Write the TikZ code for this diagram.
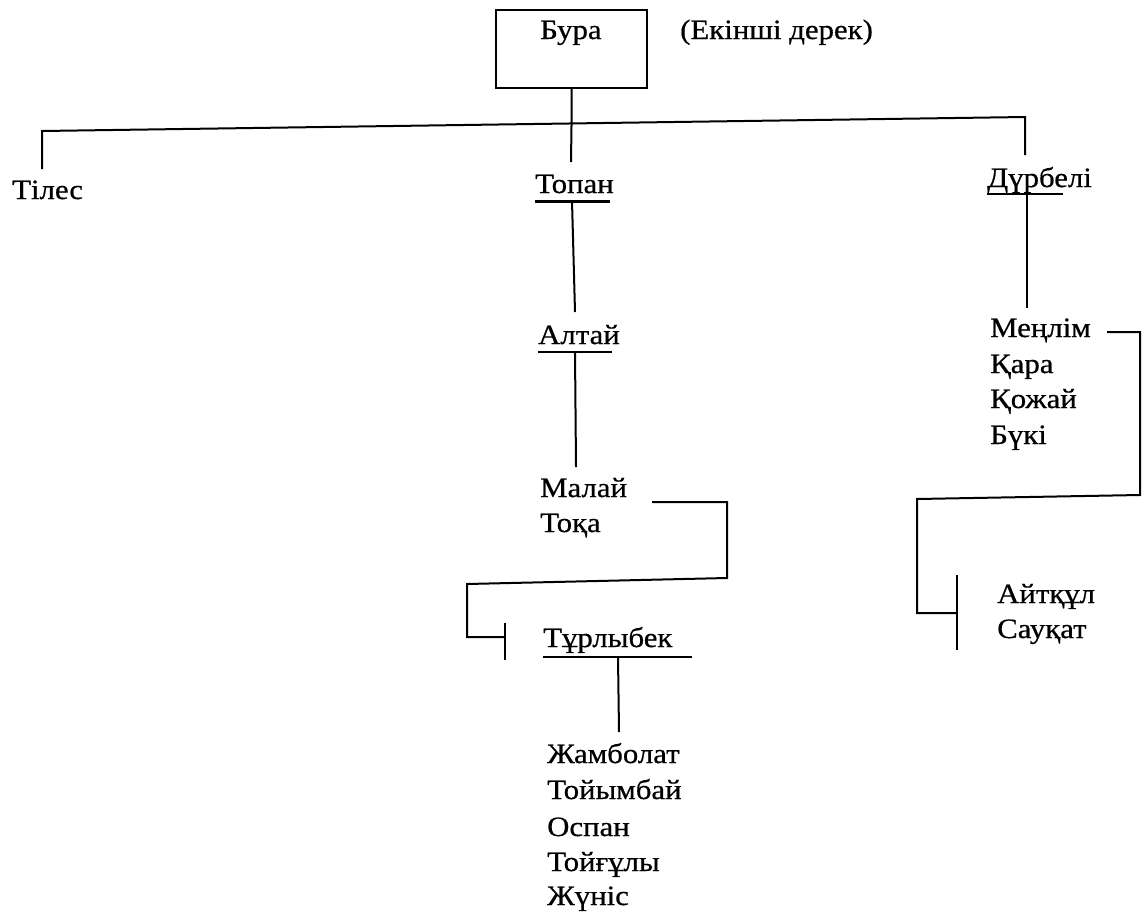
\documentclass[tikz,border=0pt]{standalone}
\usepackage{fontspec}
\setmainfont{Liberation Serif}[FakeStretch=1.1, FakeBold=0.6]
\usepackage{xcolor}
\usepackage{tikz}
\usetikzlibrary{calc}
\definecolor{bg}{HTML}{FFFFFF}
\definecolor{ink}{HTML}{000000}
\tikzset{
  link/.style={draw=ink, line width=2pt, line cap=butt, line join=miter},
  uline/.style={draw=ink, line width=1.8pt},
  ulinebold/.style={draw=ink, line width=3pt},
  person/.style={anchor=base west, inner sep=0pt, text=ink, font=\fontsize{28}{36}\selectfont},
  rootbox/.style={draw=ink, line width=2pt, anchor=north west, inner sep=0pt,
    minimum width=151pt, minimum height=78pt},
}

\begin{document}
\begin{tikzpicture}[x=1pt,y=-1pt]
  \useasboundingbox[fill=bg] (0,0) rectangle (1146,914);

  % root
  \node[rootbox] (root) at (495,9) {};
  \node[person] (bura) at (540,39) {Бура};
  \node[person] (note) at (680,39) {(Екінші дерек)};

  % sons
  \node[person] (tiles) at (12,199) {Тілес};
  \node[person] (topan) at (535,193) {Топан};
  \node[person] (durbeli) at (987,187) {Дүрбелі};

  % middle line
  \node[person] (altai) at (538,344) {Алтай};
  \node[person] (malai) at (540,497) {Малай};
  \node[person] (toqa) at (540,532) {Тоқа};
  \node[person] (turlybek) at (543,647) {Тұрлыбек};
  \node[person] (zhambolat) at (547,763) {Жамболат};
  \node[person] (toiymbai) at (547,799) {Тойымбай};
  \node[person] (ospan) at (547,836) {Оспан};
  \node[person] (toigula) at (547,871) {Тойғұлы};
  \node[person] (zhunis) at (547,905) {Жүніс};

  % right line
  \node[person] (menlim) at (990,337) {Меңлім};
  \node[person] (qara) at (990,373) {Қара};
  \node[person] (qozhai) at (990,408) {Қожай};
  \node[person] (buki) at (990,444) {Бүкі};
  \node[person] (aitqul) at (997,603) {Айтқұл};
  \node[person] (sauqat) at (997,638) {Сауқат};

  % bar under the root
  \coordinate (barL) at ($(tiles.base west)+(30,-68)$);
  \coordinate (barR) at ($(durbeli.base west)+(38,-70)$);
  \coordinate (barM) at ($(root.south)+(0,37)$);

  \draw[link] (root.south) -- (barM) -- ($(topan.base west)+(36,-31)$);
  \draw[link] ($(tiles.base west)+(30,-30)$) -- (barL) -- (barR)
    -- ($(durbeli.base west)+(38,-32)$);

  % underlines
  \draw[ulinebold] ($(topan.base west)+(0,8)$) -- ++(75,0);
  \draw[uline] ($(durbeli.base west)+(0,7)$) -- ++(76,0);
  \draw[uline] ($(altai.base west)+(0,8)$) -- ++(74,0);
  \draw[uline] ($(turlybek.base west)+(0,10)$) -- ++(149,0);

  % descent
  \draw[link] ($(topan.base west)+(37,8)$) -- ($(altai.base west)+(37,-32)$);
  \draw[link] ($(altai.base west)+(37,8)$) -- ($(malai.base west)+(36,-30)$);
  \draw[link] ($(turlybek.base west)+(75,10)$) -- ($(zhambolat.base west)+(72,-31)$);
  \draw[link] ($(durbeli.base west)+(40,7)$) -- ($(menlim.base west)+(37,-29)$);

  % brackets
  \coordinate (m1) at ($(malai.base west)+(112,5)$);
  \coordinate (m2) at ($(malai.base west)+(187,5)$);
  \coordinate (m3) at ($(malai.base west)+(187,81)$);
  \coordinate (m4) at ($(turlybek.base west)+(-76,-63)$);
  \coordinate (m5) at ($(turlybek.base west)+(-76,-10)$);
  \coordinate (m6) at ($(turlybek.base west)+(-38,-10)$);
  \draw[link] (m1) -- (m2) -- (m3) -- (m4) -- (m5) -- (m6);
  \draw[link] ($(turlybek.base west)+(-38,-24)$) -- ($(turlybek.base west)+(-38,13)$);

  \coordinate (r1) at ($(menlim.base west)+(117,-5)$);
  \coordinate (r2) at ($(menlim.base west)+(150,-5)$);
  \coordinate (r3) at ($(menlim.base west)+(150,158)$);
  \coordinate (r4) at ($(aitqul.base west)+(-80,-104)$);
  \coordinate (r5) at ($(aitqul.base west)+(-80,10)$);
  \coordinate (r6) at ($(aitqul.base west)+(-40,10)$);
  \draw[link] (r1) -- (r2) -- (r3) -- (r4) -- (r5) -- (r6);
  \draw[link] ($(aitqul.base west)+(-40,-28)$) -- ($(aitqul.base west)+(-40,47)$);
\end{tikzpicture}
\end{document}
